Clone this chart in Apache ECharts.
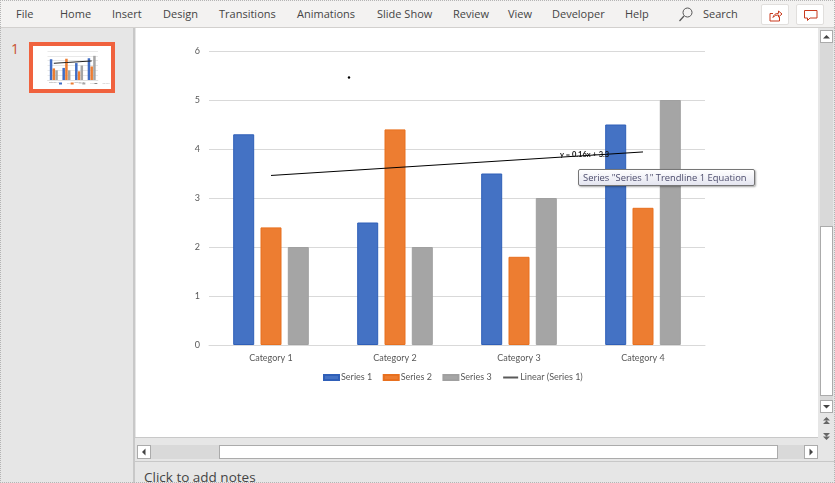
<!DOCTYPE html>
<html>
<head>
<meta charset="utf-8">
<title>Chart</title>
<script src="https://cdn.jsdelivr.net/npm/echarts@6/dist/echarts.min.js"></script>
<style>
  html, body { margin: 0; padding: 0; width: 835px; height: 483px; overflow: hidden; background: #e6e6e6; font-family: "Open Sans", sans-serif; }
  div, span { position: absolute; box-sizing: border-box; }
  #edge { left: 0; top: 0; width: 835px; height: 483px; border: 1px dotted #b4b4b4; z-index: 9; pointer-events: none; }
  #ribbon { left: 0; top: 0; width: 835px; height: 28px; background: #f3f2f1; border-bottom: 1px solid #d2d0ce; }
  #ribbon span { top: 6px; font-size: 11px; line-height: 16px; color: #444; white-space: nowrap; }
  .btn { top: 4px; height: 21px; width: 28px; background: #fff; border: 1px solid #e1dfdd; border-radius: 2px; }
  #splitter { left: 133px; top: 28px; width: 2px; height: 455px; background: #c8c8c8; }
  #slide { left: 136px; top: 28px; width: 682px; height: 409px; background: #fff; }
  #slideNo { left: 11px; top: 39px; font-size: 14px; color: #c8502e; }
  #thumbBox { left: 29px; top: 42px; width: 86px; height: 51px; border: 4px solid #f0623e; background: #fff; }
  #thumb { left: 33px; top: 46px; width: 78px; height: 43px; }
  .sb { background: #d9d9d9; }
  .sbtn { background: #fff; border: 1px solid #ababab; }
  .thumbV, .thumbH { background: #fff; border: 1px solid #ababab; }
  #notesLine { left: 135px; top: 461px; width: 700px; height: 1px; background: #c8c8c8; }
  #slideLine { left: 135px; top: 437px; width: 683px; height: 1px; background: #c8c8c8; }
  #notes { left: 144px; top: 468px; font-size: 13.5px; line-height: 18px; color: #444; white-space: nowrap; }
  #tip { left: 578px; top: 169px; width: 177px; height: 17px; border: 1px solid #767676; border-radius: 2px; background: linear-gradient(#ffffff, #e4e5f0); box-shadow: 1px 1px 2px rgba(0,0,0,0.35); font-size: 9.4px; line-height: 15px; color: #4c4c6c; padding-left: 4px; white-space: nowrap; z-index: 5; }
  svg { position: absolute; }
</style>
</head>
<body>
<div id="ribbon"></div>
<div id="splitter"></div>
<div id="slide"><div id="main" style="left:0;top:0;width:682px;height:409px"></div></div>
<div id="slideNo">1</div>
<div id="thumbBox"></div>
<div id="thumb"></div>

<!-- vertical scrollbar -->
<div class="sb" style="left:820px;top:30px;width:13px;height:385px"></div>
<div class="sbtn" style="left:820px;top:30px;width:13px;height:13px"></div>
<svg style="left:820px;top:30px" width="13" height="13"><path d="M3 8.5 L6.5 5 L10 8.5 Z" fill="#444"/></svg>
<div class="thumbV" style="left:820px;top:226px;width:13px;height:170px"></div>
<div class="sbtn" style="left:820px;top:400px;width:13px;height:13px"></div>
<svg style="left:820px;top:400px" width="13" height="13"><path d="M3 5 L6.5 8.5 L10 5 Z" fill="#444"/></svg>
<div style="left:818px;top:413px;width:17px;height:30px;background:#e6e6e6"></div>
<svg style="left:820px;top:416px" width="13" height="25"><path d="M3 4.5 L6.5 1 L10 4.5 Z M3 8 L6.5 4.5 L10 8 Z M3 17 L6.5 20.5 L10 17 Z M3 20.5 L6.5 24 L10 20.5 Z" fill="#666"/></svg>

<!-- horizontal scrollbar -->
<div class="sb" style="left:137px;top:445px;width:680px;height:14px"></div>
<div class="sbtn" style="left:137px;top:445px;width:14px;height:14px"></div>
<svg style="left:137px;top:445px" width="14" height="14"><path d="M8.5 3.5 L5 7 L8.5 10.5 Z" fill="#444"/></svg>
<div class="thumbH" style="left:219px;top:445px;width:559px;height:14px"></div>
<div class="sbtn" style="left:804px;top:445px;width:14px;height:14px"></div>
<svg style="left:804px;top:445px" width="14" height="14"><path d="M5.5 3.5 L9 7 L5.5 10.5 Z" fill="#444"/></svg>

<div id="slideLine"></div>
<div id="notesLine"></div>
<div id="notes">Click to add notes</div>
<div id="tip">Series "Series 1" Trendline 1 Equation</div>
<div id="edge"></div>

<script>
  var categories = ['Category 1', 'Category 2', 'Category 3', 'Category 4'];
  var series1 = [4.3, 2.5, 3.5, 4.5];
  var series2 = [2.4, 4.4, 1.8, 2.8];
  var series3 = [2, 2, 3, 5];
  var trendline = [3.46, 3.62, 3.78, 3.94];
  var legendNames = ['Series 1', 'Series 2', 'Series 3', 'Linear (Series 1)'];
  var equation = 'y = 0.16x + 3.3';
  var menuLabels = ['File', 'Home', 'Insert', 'Design', 'Transitions', 'Animations', 'Slide Show', 'Review', 'View', 'Developer', 'Help', 'Search'];
  var menuLefts = [16, 60, 112, 163, 219, 297, 377, 453, 508, 552, 625, 703];

  // ribbon
  var ribbon = document.getElementById('ribbon');
  menuLabels.forEach(function(label, i) {
    var s = document.createElement('span');
    s.textContent = label;
    s.style.left = menuLefts[i] + 'px';
    ribbon.appendChild(s);
  });
  ribbon.insertAdjacentHTML('beforeend',
    '<svg style="left:678px;top:6px" width="16" height="17"><circle cx="9.5" cy="6.5" r="4.5" fill="none" stroke="#555" stroke-width="1"/><path d="M6 10 L1.5 15" stroke="#555" stroke-width="1.2"/></svg>' +
    '<div class="btn" style="left:761px"><svg style="left:7px;top:4px" width="14" height="13"><path d="M1 4.5 V12 H10.5 V8 M1 4.5 H4 M4 8.5 C4.5 5.5 7 4.3 9.5 4.3 V2 L13 5 L9.5 8 V6 C7.5 6 5.5 6.5 4 8.5 Z" fill="none" stroke="#c8391c" stroke-width="1"/></svg></div>' +
    '<div class="btn" style="left:796px"><svg style="left:6px;top:4px" width="16" height="13"><path d="M1.5 1.5 H14 V9 H7 L4.5 11.5 V9 H1.5 Z" fill="none" stroke="#c8391c" stroke-width="1"/></svg></div>');

  function barSeries(name, data, color, edge, width, gap) {
    return {
      name: name,
      type: 'bar',
      data: data,
      barWidth: width,
      barGap: gap,
      itemStyle: { color: color, borderColor: edge, borderWidth: width > 5 ? 1 : 0 }
    };
  }

  function legendData(lineWidth) {
    return [
      { name: legendNames[0], icon: 'rect' },
      { name: legendNames[1], icon: 'rect' },
      { name: legendNames[2], icon: 'rect' },
      // no marker on the line swatch
      { name: legendNames[3], itemStyle: { opacity: 0 }, lineStyle: { color: '#595959', width: lineWidth } }
    ];
  }

  var chart = echarts.init(document.getElementById('main'), null, { renderer: 'canvas' });
  chart.setOption({
    animation: false,
    textStyle: { fontFamily: 'Lato' },
    grid: { left: 73, top: 23, width: 496, height: 294 },
    legend: {
      left: 187,
      top: 345,
      padding: 0,
      itemWidth: 15,
      itemHeight: 5,
      itemGap: 10.5,
      textStyle: { fontFamily: 'Lato', fontSize: 9, color: '#595959', padding: [0, 0, 0, -3] },
      data: legendData(2)
    },
    xAxis: {
      type: 'category',
      data: categories,
      axisLine: { lineStyle: { color: '#d9d9d9' } },
      axisTick: { show: false },
      axisLabel: { fontFamily: 'Lato', fontSize: 9, color: '#595959', margin: 9 }
    },
    yAxis: {
      type: 'value',
      min: 0,
      max: 6,
      interval: 1,
      axisLine: { show: false },
      axisTick: { show: false },
      axisLabel: { fontFamily: 'Lato', fontSize: 9, color: '#595959', margin: 9 },
      splitLine: { lineStyle: { color: '#d9d9d9' } }
    },
    series: [
      barSeries(legendNames[0], series1, '#4472c4', '#2f5fb8', 21, '30%'),
      barSeries(legendNames[1], series2, '#ed7d31', '#e8701f', 21, '30%'),
      barSeries(legendNames[2], series3, '#a5a5a5', '#a0a0a0', 21, '30%'),
      {
        name: legendNames[3],
        type: 'line',
        data: trendline,
        symbol: 'none',
        z: 5,
        lineStyle: { color: '#000', width: 1 }
      }
    ],
    graphic: [
      { type: 'text', left: 424, top: 123, z: 10, style: { text: equation, fontFamily: 'Lato', fontSize: 7.5, fontWeight: 'bold', fill: '#111' } },
      { type: 'circle', shape: { cx: 213, cy: 49.5, r: 1.2 }, z: 10, style: { fill: '#000' } }
    ]
  });

  // slide thumbnail, same data at small size
  var thumbChart = echarts.init(document.getElementById('thumb'));
  thumbChart.setOption({
    animation: false,
    grid: { left: 14.5, top: 5, width: 50.5, height: 29 },
    legend: {
      left: 26,
      top: 36.5,
      padding: 0,
      itemWidth: 3,
      itemHeight: 2,
      itemGap: 0,
      textStyle: { fontSize: 1, color: '#aaa', padding: 0 },
      data: legendData(0.7)
    },
    xAxis: {
      type: 'category',
      data: categories,
      axisLine: { lineStyle: { color: '#d9d9d9', width: 0.5 } },
      axisTick: { show: false },
      axisLabel: { fontSize: 2, color: '#888', margin: 1 }
    },
    yAxis: {
      type: 'value',
      min: 0,
      max: 6,
      interval: 1,
      axisLine: { show: false },
      axisTick: { show: false },
      axisLabel: { show: false },
      splitLine: { lineStyle: { color: '#e0e0e0', width: 0.7 } }
    },
    series: [
      barSeries(legendNames[0], series1, '#3f6cc4', '#3f6cc4', 2.5, '10%'),
      barSeries(legendNames[1], series2, '#ed7d31', '#ed7d31', 2.5, '10%'),
      barSeries(legendNames[2], series3, '#a5a5a5', '#a5a5a5', 2.5, '10%'),
      { name: legendNames[3], type: 'line', data: trendline, symbol: 'none', z: 5, lineStyle: { color: '#222', width: 1 } }
    ]
  });
</script>
</body>
</html>
